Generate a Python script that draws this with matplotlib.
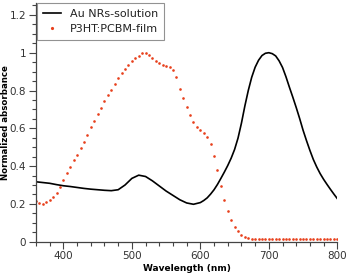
import numpy as np
import matplotlib
matplotlib.use("Agg")
import matplotlib.pyplot as plt
from matplotlib.ticker import MultipleLocator

# Au NRs in solution: 10 nm steps up to 600 nm, then 5 nm steps
au_wl = list(range(360, 600, 10)) + list(range(600, 801, 5))
au_abs = [0.317, 0.313, 0.309, 0.302, 0.296, 0.292, 0.287, 0.282, 0.278, 0.275,
          0.272, 0.270, 0.275, 0.300, 0.335, 0.352, 0.345, 0.322, 0.295, 0.268,
          0.245, 0.222, 0.205, 0.198,
          0.207, 0.218, 0.232, 0.252, 0.275, 0.303, 0.335, 0.368, 0.403, 0.442,
          0.488, 0.548, 0.627, 0.718, 0.800, 0.870, 0.923, 0.960, 0.985, 0.997,
          1.000, 0.995, 0.983, 0.957, 0.922, 0.873, 0.818, 0.765, 0.710, 0.652,
          0.590, 0.535, 0.483, 0.435, 0.395, 0.360, 0.330, 0.303, 0.277, 0.252,
          0.228]

# P3HT:PCBM film, 5 nm steps
film_wl = list(range(360, 801, 5))
film_abs = [0.215, 0.205, 0.202, 0.208, 0.218, 0.235, 0.258, 0.290, 0.325, 0.362,
            0.395, 0.430, 0.460, 0.495, 0.530, 0.565, 0.605, 0.640, 0.675, 0.710,
            0.745, 0.775, 0.805, 0.835, 0.865, 0.890, 0.915, 0.935, 0.955, 0.972,
            0.985, 0.996, 1.000, 0.990, 0.970, 0.955, 0.945, 0.937, 0.932, 0.925,
            0.910, 0.870, 0.806, 0.760, 0.715, 0.670, 0.635, 0.605, 0.590, 0.575,
            0.555, 0.515, 0.455, 0.377, 0.296, 0.220, 0.160, 0.115, 0.080, 0.058,
            0.038, 0.026, 0.019, 0.016, 0.015, 0.015, 0.015, 0.015, 0.015, 0.015,
            0.015, 0.015, 0.015, 0.015, 0.015, 0.015, 0.015, 0.015, 0.015, 0.015,
            0.015, 0.015, 0.015, 0.015, 0.015, 0.015, 0.015, 0.015, 0.015]

fig = plt.figure(figsize=(3.51, 2.79), dpi=100)
ax = fig.add_axes([36 / 351, 37.3 / 279, 301.3 / 351, 238.7 / 279])

ax.plot(au_wl, au_abs, color='black', lw=1.2, label='Au NRs-solution')
ax.plot(film_wl, film_abs, ls='none', marker='o', ms=1.9, mew=0,
        color='#e8401c', label='P3HT:PCBM-film')

ax.set_xlim(360, 800)
ax.set_ylim(0, 1.263)
ax.xaxis.set_major_locator(MultipleLocator(100))
ax.xaxis.set_minor_locator(MultipleLocator(20))
ax.yaxis.set_minor_locator(MultipleLocator(0.05))
ax.set_yticks([0, 0.2, 0.4, 0.6, 0.8, 1.0, 1.2])
ax.set_yticklabels(['0', '0.2', '0.4', '0.6', '0.8', '1', '1.2'])

for s in ['top', 'right']:
    ax.spines[s].set_visible(False)
for s in ['left', 'bottom']:
    ax.spines[s].set_color('#444444')
    ax.spines[s].set_linewidth(0.9)

ax.tick_params(which='major', direction='out', length=5, width=0.8,
               color='#444444', labelsize=7.5, labelcolor='#333333', pad=2)
ax.tick_params(which='minor', direction='out', length=3, width=0.8, color='#444444')

ax.set_xlabel('Wavelength (nm)', fontsize=6.5, fontweight='bold', labelpad=2)
ax.set_ylabel('Normalized absorbance', fontsize=6.2, fontweight='bold', labelpad=1)
ax.yaxis.set_label_coords(-0.087, 0.5)

leg = ax.legend(loc='upper left', bbox_to_anchor=(0.003, 1.0), fontsize=8,
                frameon=True, fancybox=False, handlelength=1.6, handletextpad=0.8,
                borderpad=0.55, labelspacing=0.4, borderaxespad=0, markerscale=1.2)
leg.get_frame().set_edgecolor('#777777')
leg.get_frame().set_linewidth(0.8)
for t in leg.get_texts():
    t.set_color('#222222')

fig.savefig('out.png', dpi=100)
